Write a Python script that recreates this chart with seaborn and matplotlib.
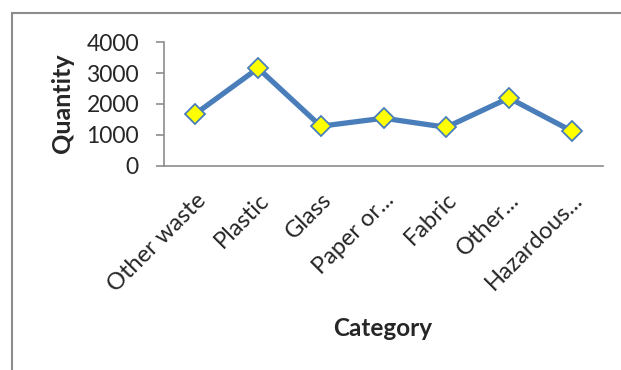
import matplotlib
matplotlib.use("Agg")
import matplotlib.pyplot as plt
import matplotlib.transforms as mtransforms
import seaborn as sns
import pandas as pd
from matplotlib.patches import Rectangle

categories = ["Other waste", "Plastic", "Glass", "Paper or...", "Fabric", "Other...", "Hazardous..."]
quantities = [1680, 3160, 1280, 1540, 1245, 2195, 1125]
y_ticks = [0, 1000, 2000, 3000, 4000]

sns.set_theme(style="white")
plt.rcParams['font.family'] = ['Lato', 'DejaVu Sans']

df = pd.DataFrame({"Category": categories, "Quantity": quantities})

fig = plt.figure(figsize=(6.21, 3.70), dpi=100)
ax = fig.add_axes([164/621, 1-165.7/370, (603-164)/621, (165.7-42.3)/370])

sns.lineplot(data=df, x="Category", y="Quantity", sort=False, ax=ax,
             color="#4a7ebb", linewidth=3.8, marker="D", markersize=10.5,
             markerfacecolor="#ffff00", markeredgecolor="#4a7ebb", markeredgewidth=1.3)

ax.set_xlim(-0.5, len(categories) - 0.5)
ax.set_ylim(0, 4000)
ax.set_yticks(y_ticks)
ax.set_yticklabels([str(v) for v in y_ticks], fontsize=16.5)
ax.set_xticks(range(len(categories)))
ax.set_xticklabels(categories, rotation=45, ha="right", va="top",
                   rotation_mode="anchor", fontsize=17)
offset = mtransforms.ScaledTranslation(2/100, 0, fig.dpi_scale_trans)
for lbl in ax.get_xticklabels():
    lbl.set_transform(lbl.get_transform() + offset)

for s in ["top", "right"]:
    ax.spines[s].set_visible(False)
for s in ["left", "bottom"]:
    ax.spines[s].set_color("#8c8c8c")
    ax.spines[s].set_linewidth(1.2)

ax.tick_params(axis="y", which="both", left=True, length=6, width=1.2, color="#8c8c8c", pad=12)
ax.tick_params(axis="x", which="both", bottom=False, length=0, pad=17)

ax.set_xlabel("Category", fontsize=17.5, fontweight="bold")
ax.set_ylabel("Quantity", fontsize=18, fontweight="bold")
ax.xaxis.set_label_coords((383-164)/(603-164), 1 - (328-42.3)/(165.7-42.3), transform=ax.transAxes)
ax.yaxis.set_label_coords((63-164)/(603-164), (165.7-103)/(165.7-42.3), transform=ax.transAxes)
ax.xaxis.label.set_va("center")
ax.yaxis.label.set_va("center")

frame = Rectangle((12/621, -0.2), 1.2, 1 - 13/370 + 0.2, transform=fig.transFigure,
                  fill=False, edgecolor="#8c8c8c", linewidth=1.5, clip_on=False)
fig.patches.append(frame)

fig.savefig("out.png", dpi=100)
